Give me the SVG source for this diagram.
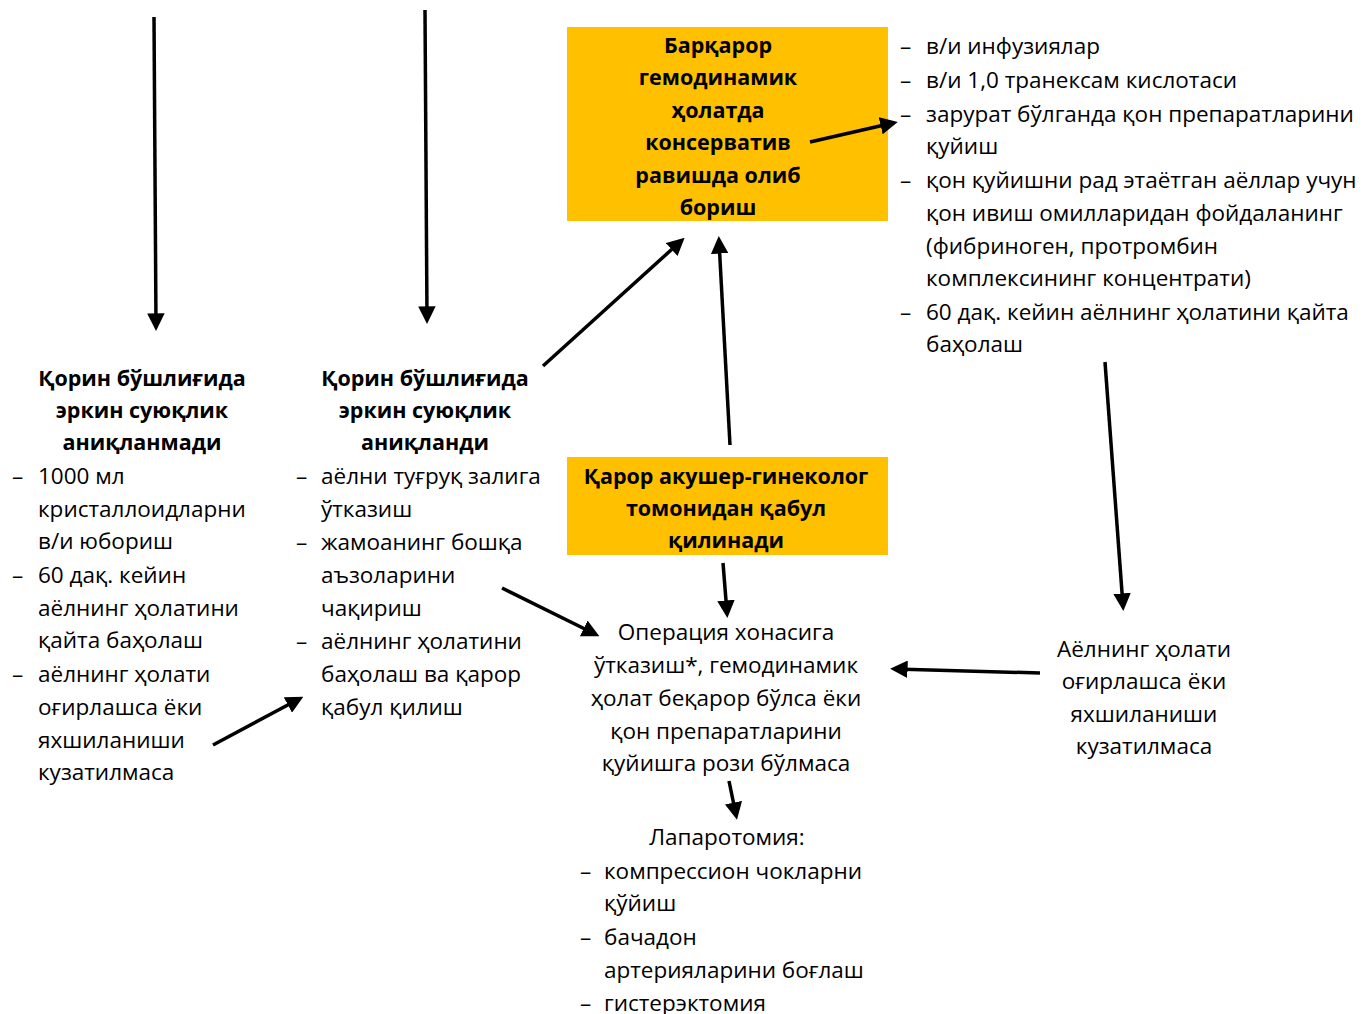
<svg xmlns="http://www.w3.org/2000/svg" width="1369" height="1014" viewBox="0 0 1369 1014">
<style>
text{font-family:"Open Sans","Noto Sans","Liberation Sans",sans-serif;font-size:22.5px;fill:#000}
.b{font-weight:bold;font-size:21.5px}
.c{text-anchor:middle}
.box{fill:#FFC000}
.ln{stroke:#000;stroke-width:3.5;fill:none;marker-end:url(#ah)}
</style>
<defs>
<marker id="ah" markerWidth="5" markerHeight="5" refX="3.6" refY="2.5" orient="auto" markerUnits="strokeWidth" viewBox="0 0 5 5">
<path d="M0,0 L5,2.5 L0,5 Z" fill="#000"/>
</marker>
</defs>
<rect width="1369" height="1014" fill="#fff"/>
<g id="stable">
<rect class="box" x="567" y="27" width="321" height="194"/>
<text class="b c"><tspan x="718" y="53">Барқарор</tspan><tspan x="718" y="85">гемодинамик</tspan><tspan x="718" y="118">ҳолатда</tspan><tspan x="718" y="150">консерватив</tspan><tspan x="718" y="183">равишда олиб</tspan><tspan x="718" y="215">бориш</tspan></text>
</g>
<g id="conservative-list">
<text><tspan x="900" y="54">–</tspan><tspan x="926" y="54">в/и инфузиялар</tspan>
<tspan x="900" y="88">–</tspan><tspan x="926" y="88">в/и 1,0 транексам кислотаси</tspan>
<tspan x="900" y="122">–</tspan><tspan x="926" y="122">зарурат бўлганда қон препаратларини</tspan>
<tspan x="926" y="154">қуйиш</tspan>
<tspan x="900" y="188">–</tspan><tspan x="926" y="188">қон қуйишни рад этаётган аёллар учун</tspan>
<tspan x="926" y="221">қон ивиш омилларидан фойдаланинг</tspan>
<tspan x="926" y="254">(фибриноген, протромбин</tspan>
<tspan x="926" y="286">комплексининг концентрати)</tspan>
<tspan x="900" y="320">–</tspan><tspan x="926" y="320">60 дақ. кейин аёлнинг ҳолатини қайта</tspan>
<tspan x="926" y="352">баҳолаш</tspan></text>
</g>
<g id="no-fluid">
<text class="b c"><tspan x="142" y="386">Қорин бўшлиғида</tspan><tspan x="142" y="418">эркин суюқлик</tspan><tspan x="142" y="450">аниқланмади</tspan></text>
<text><tspan x="12" y="484">–</tspan><tspan x="38" y="484">1000 мл</tspan>
<tspan x="38" y="517">кристаллоидларни</tspan>
<tspan x="38" y="549">в/и юбориш</tspan>
<tspan x="12" y="583">–</tspan><tspan x="38" y="583">60 дақ. кейин</tspan>
<tspan x="38" y="616">аёлнинг ҳолатини</tspan>
<tspan x="38" y="648">қайта баҳолаш</tspan>
<tspan x="12" y="682">–</tspan><tspan x="38" y="682">аёлнинг ҳолати</tspan>
<tspan x="38" y="715">оғирлашса ёки</tspan>
<tspan x="38" y="748">яхшиланиши</tspan>
<tspan x="38" y="780">кузатилмаса</tspan></text>
</g>
<g id="fluid">
<text class="b c"><tspan x="425" y="386">Қорин бўшлиғида</tspan><tspan x="425" y="418">эркин суюқлик</tspan><tspan x="425" y="450">аниқланди</tspan></text>
<text><tspan x="296" y="484">–</tspan><tspan x="321" y="484">аёлни туғруқ залига</tspan>
<tspan x="321" y="517">ўтказиш</tspan>
<tspan x="296" y="550">–</tspan><tspan x="321" y="550">жамоанинг бошқа</tspan>
<tspan x="321" y="583">аъзоларини</tspan>
<tspan x="321" y="616">чақириш</tspan>
<tspan x="296" y="649">–</tspan><tspan x="321" y="649">аёлнинг ҳолатини</tspan>
<tspan x="321" y="682">баҳолаш ва қарор</tspan>
<tspan x="321" y="715">қабул қилиш</tspan></text>
</g>
<g id="decision">
<rect class="box" x="567" y="457" width="321" height="98"/>
<text class="b c"><tspan x="726" y="484">Қарор акушер-гинеколог</tspan><tspan x="726" y="516">томонидан қабул</tspan><tspan x="726" y="548">қилинади</tspan></text>
</g>
<g id="operation">
<text class="c"><tspan x="726" y="640">Операция хонасига</tspan><tspan x="726" y="673">ўтказиш*, гемодинамик</tspan><tspan x="726" y="706">ҳолат беқарор бўлса ёки</tspan><tspan x="726" y="739">қон препаратларини</tspan><tspan x="726" y="771">қуйишга рози бўлмаса</tspan></text>
</g>
<g id="worse">
<text class="c"><tspan x="1144" y="657">Аёлнинг ҳолати</tspan><tspan x="1144" y="689">оғирлашса ёки</tspan><tspan x="1144" y="722">яхшиланиши</tspan><tspan x="1144" y="754">кузатилмаса</tspan></text>
</g>
<g id="laparotomy">
<text class="c"><tspan x="727" y="845">Лапаротомия:</tspan></text>
<text><tspan x="580" y="879">–</tspan><tspan x="604" y="879">компрессион чокларни</tspan>
<tspan x="604" y="911">қўйиш</tspan>
<tspan x="580" y="945">–</tspan><tspan x="604" y="945">бачадон</tspan>
<tspan x="604" y="978">артерияларини боғлаш</tspan>
<tspan x="580" y="1011">–</tspan><tspan x="604" y="1011">гистерэктомия</tspan></text>
</g>
<g id="connectors">
<line class="ln" x1="154" y1="17" x2="156" y2="326"/>
<line class="ln" x1="425" y1="10" x2="427" y2="319"/>
<line class="ln" x1="543" y1="366" x2="681" y2="241"/>
<line class="ln" x1="730" y1="445" x2="719" y2="241"/>
<line class="ln" x1="810" y1="142" x2="893" y2="123"/>
<line class="ln" x1="1105" y1="362" x2="1123" y2="606"/>
<line class="ln" x1="723" y1="563" x2="727" y2="613"/>
<line class="ln" x1="502" y1="588" x2="595" y2="634"/>
<line class="ln" x1="1040" y1="673" x2="895" y2="669"/>
<line class="ln" x1="213" y1="745" x2="299" y2="699"/>
<line class="ln" x1="729" y1="781" x2="736" y2="815"/>
</g>
</svg>
